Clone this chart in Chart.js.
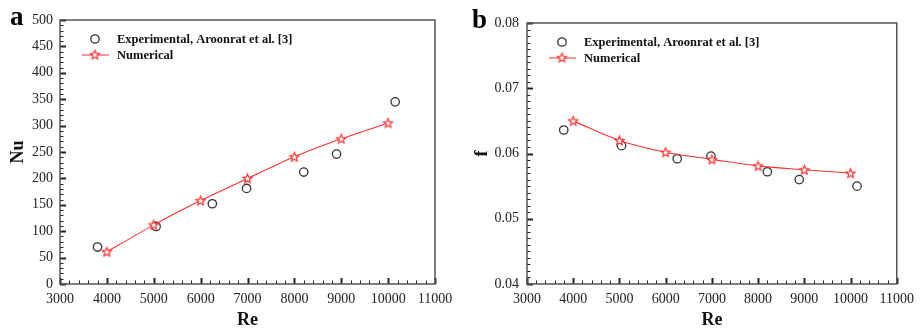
<!DOCTYPE html>
<html><head><meta charset="utf-8">
<script src="https://cdn.jsdelivr.net/npm/chart.js@4.4.1/dist/chart.umd.min.js"></script>
<style>
html,body{margin:0;padding:0;background:#fff;}
#wrap{position:relative;width:921px;height:332px;background:#fff;}
.box{position:absolute;top:0;height:332px;}
</style></head><body>
<div id="wrap">
<div class="box" style="left:0;width:460px"><canvas id="ca" width="460" height="332"></canvas></div>
<div class="box" style="left:460px;width:461px"><canvas id="cb" width="461" height="332"></canvas></div>
</div>
<script>
// ---- data ----
const reTickLabels = [3000, 4000, 5000, 6000, 7000, 8000, 9000, 10000, 11000];
const nuTickLabels = [0, 50, 100, 150, 200, 250, 300, 350, 400, 450, 500];
const fTickLabels = ["0.04", "0.05", "0.06", "0.07", "0.08"];

const reExpA = [3800, 5050, 6250, 6980, 8200, 8900, 10150];
const nuExp  = [70, 109, 152, 181, 212, 246, 345];
const reNum  = [4000, 5000, 6000, 7000, 8000, 9000, 10000];
const nuNum  = [61, 112, 158, 200, 241, 275, 305];

const reExpB = [3795, 5045, 6250, 6980, 8200, 8890, 10140];
const fExp   = [0.0636, 0.0612, 0.0592, 0.0596, 0.0572, 0.0560, 0.0550];
const fNum   = [0.0650, 0.0620, 0.0602, 0.0591, 0.0581, 0.0575, 0.0570];

const legendLabels = ["Experimental, Aroonrat et al. [3]", "Numerical"];

// ---- styling ----
const SERIF = "'Liberation Serif', 'Times New Roman', serif";
const RED = '#ff3030';
const FRAME = '#555';

function makeStar() {
  const c = document.createElement('canvas');
  c.width = 13; c.height = 13;
  const g = c.getContext('2d');
  g.beginPath();
  for (let i = 0; i < 10; i++) {
    const r = i % 2 ? 2.1 : 4.7;
    const a = -Math.PI / 2 + i * Math.PI / 5;
    const px = 6.5 + r * Math.cos(a), py = 6.9 + r * Math.sin(a);
    if (i === 0) g.moveTo(px, py); else g.lineTo(px, py);
  }
  g.closePath();
  g.fillStyle = '#fff'; g.fill();
  g.strokeStyle = RED; g.lineWidth = 1.2; g.stroke();
  return c;
}
const STAR = makeStar();

function pts(xs, ys) { return xs.map((x, i) => ({x: x, y: ys[i]})); }

function decoPlugin(opt) {
  return {
    id: 'deco',
    afterDraw(chart) {
      const ctx = chart.ctx, ca = chart.chartArea;
      const xs = chart.scales.x, ys = chart.scales.y;
      ctx.save();
      // inward ticks
      ctx.strokeStyle = '#222';
      ctx.lineWidth = 1;
      for (let v = xs.min; v <= xs.max + 1e-9; v += opt.xMinor) {
        const major = Math.abs((v - xs.min) / opt.xMajor - Math.round((v - xs.min) / opt.xMajor)) < 1e-6;
        const px = Math.round(xs.getPixelForValue(v)) + 0.5;
        ctx.lineWidth = major ? 2 : 1;
        ctx.beginPath();
        ctx.moveTo(px, ca.bottom);
        ctx.lineTo(px, ca.bottom - (major ? 6 : 3.5));
        ctx.stroke();
      }
      const n = Math.round((ys.max - ys.min) / opt.yMinor);
      for (let i = 0; i <= n; i++) {
        const v = ys.min + i * opt.yMinor;
        const major = i % opt.yPer === 0;
        const py = Math.round(ys.getPixelForValue(v)) + 0.5;
        ctx.lineWidth = major ? 2 : 1;
        ctx.beginPath();
        ctx.moveTo(ca.left, py);
        ctx.lineTo(ca.left + (major ? 6 : 3.5), py);
        ctx.stroke();
      }
      // frame
      ctx.strokeStyle = FRAME;
      ctx.lineWidth = 1.5;
      ctx.strokeRect(ca.left, ca.top, ca.right - ca.left, ca.bottom - ca.top);
      // legend
      const lx = ca.left + 35;
      const y1 = ca.top + 19, y2 = ca.top + 35;
      ctx.beginPath();
      ctx.arc(lx, y1, 4.2, 0, Math.PI * 2);
      ctx.fillStyle = '#fff'; ctx.fill();
      ctx.strokeStyle = '#333'; ctx.lineWidth = 1.3; ctx.stroke();
      ctx.beginPath();
      ctx.moveTo(lx - 13, y2); ctx.lineTo(lx + 14, y2);
      ctx.strokeStyle = RED; ctx.lineWidth = 1; ctx.stroke();
      ctx.drawImage(STAR, lx - 6.5, y2 - 6.9);
      ctx.fillStyle = '#111';
      ctx.font = "bold 12.5px " + SERIF;
      ctx.textBaseline = 'middle';
      ctx.textAlign = 'left';
      ctx.fillText(legendLabels[0], ca.left + 57, y1 + 1);
      ctx.fillText(legendLabels[1], ca.left + 57, y2 + 1);
      // panel letter
      ctx.font = "bold 27px " + SERIF;
      ctx.textBaseline = 'alphabetic';
      ctx.fillStyle = '#000';
      ctx.fillText(opt.letter, opt.lx, opt.ly);
      ctx.restore();
    }
  };
}

function makeChart(id, cfg) {
  return new Chart(document.getElementById(id), {
    type: 'scatter',
    data: {
      datasets: [
        {
          label: legendLabels[0],
          data: pts(cfg.expX, cfg.expY),
          showLine: false,
          pointStyle: 'circle',
          pointRadius: 4.2,
          pointHoverRadius: 4.2,
          pointBorderWidth: 1.3,
          borderColor: '#333',
          backgroundColor: '#fff',
          order: 2
        },
        {
          label: legendLabels[1],
          data: pts(reNum, cfg.numY),
          showLine: true,
          tension: cfg.tension,
          borderColor: RED,
          borderWidth: 1.1,
          pointStyle: STAR,
          backgroundColor: '#fff',
          order: 1
        }
      ]
    },
    options: {
      responsive: false,
      animation: false,
      events: [],
      layout: { padding: cfg.pad },
      plugins: { legend: { display: false }, tooltip: { enabled: false } },
      scales: {
        x: {
          type: 'linear',
          min: 3000, max: 11000,
          afterBuildTicks: s => { s.ticks = reTickLabels.map(v => ({value: v})); },
          afterFit: s => { s.height = 48; },
          grid: { display: false, drawTicks: false },
          border: { display: false },
          ticks: { color: '#222', font: { family: SERIF, size: 14 }, padding: 7, maxRotation: 0, autoSkip: false,
                   callback: v => String(v) },
          title: { display: true, text: 'Re', color: '#111', font: { family: SERIF, size: 18, weight: 'bold' }, padding: { top: 0, bottom: 1 } }
        },
        y: {
          type: 'linear',
          min: cfg.yMin, max: cfg.yMax,
          afterBuildTicks: s => { s.ticks = cfg.yTicks.map(v => ({value: Number(v)})); },
          afterFit: s => { s.width = cfg.yWidth; },
          grid: { display: false, drawTicks: false },
          border: { display: false },
          ticks: { color: '#222', font: { family: SERIF, size: 14 }, padding: cfg.yPad, autoSkip: false,
                   callback: cfg.yFmt },
          title: { display: true, text: cfg.yTitle, color: '#111', font: { family: SERIF, size: 18, weight: 'bold' }, padding: { top: cfg.yTitlePad, bottom: 0 } }
        }
      }
    },
    plugins: [decoPlugin(cfg.deco)]
  });
}

makeChart('ca', {
  expX: reExpA, expY: nuExp, numY: nuNum, tension: 0.15,
  pad: { left: 0, right: 25, top: 20, bottom: 0 },
  yMin: 0, yMax: 500, yTicks: nuTickLabels, yWidth: 60, yPad: 7,
  yFmt: v => String(v), yTitle: 'Nu', yTitlePad: 8,
  deco: { xMinor: 200, xMajor: 1000, yMinor: 10, yPer: 5, letter: 'a', lx: 10, ly: 25 }
});

makeChart('cb', {
  expX: reExpB, expY: fExp, numY: fNum, tension: 0.35,
  pad: { left: 0, right: 22, top: 23, bottom: 0 },
  yMin: 0.04, yMax: 0.08, yTicks: fTickLabels, yWidth: 67, yPad: 8,
  yFmt: v => v.toFixed(2), yTitle: 'f', yTitlePad: 12,
  deco: { xMinor: 200, xMajor: 1000, yMinor: 0.001, yPer: 10, letter: 'b', lx: 12, ly: 28 }
});
</script>
</body></html>
